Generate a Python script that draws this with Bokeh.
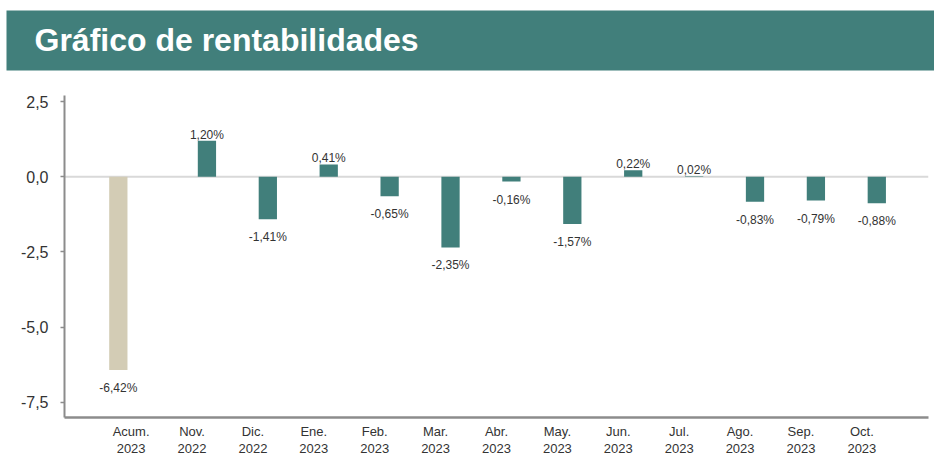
from bokeh.plotting import figure
from bokeh.models import (ColumnDataSource, FactorRange, Range1d, Span, Title,
                          FixedTicker, CustomJSTickFormatter)
from bokeh.transform import dodge
from bokeh.core.properties import value
from bokeh.embed import file_html
from bokeh.resources import INLINE

# ---------------- data ----------------
title_text = "Gráfico de rentabilidades"
categories = ["Acum.\n2023", "Nov.\n2022", "Dic.\n2022", "Ene.\n2023", "Feb.\n2023",
              "Mar.\n2023", "Abr.\n2023", "May.\n2023", "Jun.\n2023", "Jul.\n2023",
              "Ago.\n2023", "Sep.\n2023", "Oct.\n2023"]
acum_categories = ["Acum.\n2023"]
acum_values = [-6.42]
month_categories = ["Nov.\n2022", "Dic.\n2022", "Ene.\n2023", "Feb.\n2023",
                    "Mar.\n2023", "Abr.\n2023", "May.\n2023", "Jun.\n2023", "Jul.\n2023",
                    "Ago.\n2023", "Sep.\n2023", "Oct.\n2023"]
month_values = [1.20, -1.41, 0.41, -0.65, -2.35, -0.16, -1.57, 0.22, 0.02, -0.83, -0.79, -0.88]
y_ticks = [2.5, 0.0, -2.5, -5.0, -7.5]
y_min, y_max = -8.0, 2.7

# ---------------- style ----------------
TEAL = "#417f7b"
TAN = "#d3ccb5"
AXIS = "#8c8c8c"
TXT = "#333333"
FONT = "Liberation Sans"
W, H = 934, 458


def fmt(v):
    return f"{v:.2f}".replace(".", ",") + "%"


def offsets(vals):
    return [-6 if v >= 0 else 18 for v in vals]


p = figure(width=W, height=H,
           x_range=FactorRange(factors=categories, range_padding=0.594,
                               range_padding_units="absolute"),
           y_range=Range1d(y_min, y_max),
           toolbar_location=None, output_backend="svg",
           min_border_left=64, min_border_right=6, min_border_top=0,
           min_border_bottom=40, outline_line_color=None)
p.grid.visible = False

# spacer between banner and plot frame (closest to frame)
p.add_layout(Title(text=" ", text_font_size="1px", standoff=10), "above")
# title banner (outermost): title with a wide padded background
p.title = Title(text=title_text, align="left", offset=-58, standoff=20,
                vertical_align="top",
                text_font=FONT, text_font_size="32px", text_font_style="bold",
                text_color="white", background_fill_color=TEAL,
                padding=(28, 600, 11, 13))

p.add_layout(Span(location=0, dimension="width", line_color="#d9d9d9",
                  line_width=2, level="underlay"))

acum_src = ColumnDataSource(dict(cat=acum_categories, val=acum_values,
                                 lab=[fmt(v) for v in acum_values],
                                 off=offsets(acum_values)))
month_src = ColumnDataSource(dict(cat=month_categories, val=month_values,
                                  lab=[fmt(v) for v in month_values],
                                  off=offsets(month_values)))

ACUM_DX = -0.21
MONTH_DX = 0.245
BW = 0.30

p.vbar(x=dodge("cat", ACUM_DX, range=p.x_range), top="val", bottom=0, width=BW,
       source=acum_src, fill_color=TAN, line_color=None)
p.vbar(x=dodge("cat", MONTH_DX, range=p.x_range), top="val", bottom=0, width=BW,
       source=month_src, fill_color=TEAL, line_color=None)

for src, dx in ((acum_src, ACUM_DX), (month_src, MONTH_DX)):
    p.text(x=dodge("cat", dx, range=p.x_range), y="val", text="lab", y_offset="off",
           source=src, text_align="center", text_baseline="alphabetic",
           text_font=value(FONT), text_font_size=value("12px"), text_color=TXT)

# y axis
p.yaxis.ticker = FixedTicker(ticks=y_ticks)
p.yaxis.formatter = CustomJSTickFormatter(code="return tick.toFixed(1).replace('.', ',');")
p.yaxis.minor_tick_line_color = None
p.yaxis.major_tick_in = 0
p.yaxis.major_tick_out = 4
p.yaxis.major_tick_line_color = AXIS
p.yaxis.major_tick_line_width = 1.5
p.yaxis.axis_line_color = AXIS
p.yaxis.axis_line_width = 2
p.yaxis.major_label_standoff = 12
p.yaxis.major_label_text_font = FONT
p.yaxis.major_label_text_font_size = "16px"
p.yaxis.major_label_text_color = TXT

# x axis
p.xaxis.major_tick_line_color = None
p.xaxis.minor_tick_line_color = None
p.xaxis.major_tick_in = 0
p.xaxis.major_tick_out = 0
p.xaxis.axis_line_color = AXIS
p.xaxis.axis_line_width = 2.5
p.xaxis.major_label_standoff = 6
p.xaxis.major_label_text_font = FONT
p.xaxis.major_label_text_font_size = "13px"
p.xaxis.major_label_text_color = TXT
p.xaxis.major_label_text_line_height = 1.15

open("out.html", "w").write(file_html(p, INLINE))
